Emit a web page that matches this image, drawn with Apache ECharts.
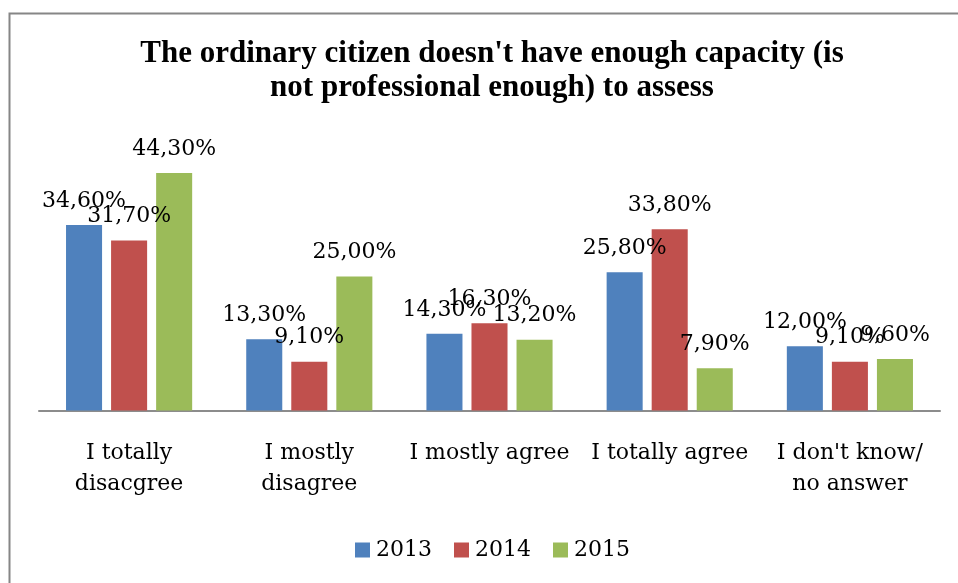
<!DOCTYPE html>
<html>
<head>
<meta charset="utf-8">
<script src="https://cdn.jsdelivr.net/npm/echarts@6/dist/echarts.min.js"></script>
<style>
  html, body { margin: 0; padding: 0; background: #fff; }
  #chart { width: 958px; height: 583px; }
</style>
</head>
<body>
<div id="chart"></div>
<script>
// Survey answers by year
var categories = ['I totally\ndisacgree', 'I mostly\ndisagree', 'I mostly agree', 'I totally agree', "I don't know/\nno answer"];
var years = ['2013', '2014', '2015'];
var values2013 = [34.6, 13.3, 14.3, 25.8, 12.0];
var values2014 = [31.7, 9.1, 16.3, 33.8, 9.1];
var values2015 = [44.3, 25.0, 13.2, 7.9, 9.6];
var seriesValues = [values2013, values2014, values2015];
var colors = ['#4F81BD', '#C0504D', '#9BBB59'];

var serif = '"DejaVu Serif", "Liberation Serif", serif';

function pct(v) {
  return v.toFixed(2).replace('.', ',') + '%';
}

var chart = echarts.init(document.getElementById('chart'), null, { renderer: 'canvas' });

chart.setOption({
  animation: false,
  backgroundColor: '#ffffff',
  title: {
    text: "The ordinary citizen doesn't have enough capacity (is\nnot professional enough) to assess",
    left: 492,
    textAlign: 'center',
    top: 37,
    padding: 0,
    textStyle: {
      fontFamily: '"Liberation Serif", serif',
      fontWeight: 'bold',
      fontSize: 31,
      lineHeight: 34,
      color: '#000000'
    }
  },
  legend: {
    data: years,
    left: 355,
    top: 539,
    itemWidth: 15,
    itemHeight: 15,
    itemGap: 22,
    icon: 'rect',
    padding: 0,
    textStyle: {
      fontFamily: serif,
      fontSize: 22,
      color: '#000000',
      padding: [0, 0, 0, 1]
    }
  },
  grid: {
    left: 39,
    right: 18,
    top: 142.5,
    bottom: 172.5,
    containLabel: false
  },
  xAxis: {
    type: 'category',
    data: categories,
    axisLine: { show: true, lineStyle: { color: '#8C8C8C', width: 2 } },
    axisTick: { show: false },
    axisLabel: {
      interval: 0,
      margin: 27,
      fontFamily: serif,
      fontSize: 22,
      lineHeight: 31,
      color: '#000000'
    }
  },
  yAxis: {
    type: 'value',
    min: 0,
    max: 50,
    interval: 10,
    show: false,
    splitLine: { show: false }
  },
  graphic: [
    {
      type: 'rect',
      silent: true,
      z: 100,
      shape: { x: 9.5, y: 13.5, width: 1000, height: 620 },
      style: { fill: 'none', stroke: '#868686', lineWidth: 2 }
    }
  ],
  series: years.map(function (y, i) {
    return {
      name: y,
      type: 'bar',
      data: seriesValues[i],
      barGap: '25%',
      barCategoryGap: '30%',
      itemStyle: { color: colors[i] },
      label: {
        show: true,
        position: 'top',
        distance: 13,
        fontFamily: serif,
        fontSize: 22,
        color: '#000000',
        formatter: function (p) { return pct(p.value); }
      }
    };
  })
});
</script>
</body>
</html>
